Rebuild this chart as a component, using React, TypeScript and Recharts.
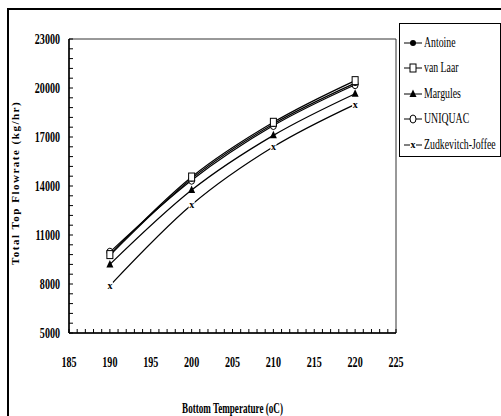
import { Legend, Line, LineChart, ReferenceArea, XAxis, YAxis } from "recharts";

const temperatures = [190, 200, 210, 220];
const antoine = [9750, 14450, 17800, 20300];
const vanLaar = [9800, 14550, 17900, 20450];
const margules = [9200, 13750, 17100, 19650];
const uniquac = [9950, 14350, 17700, 20200];
const zudkevitchJoffee = [7900, 12850, 16400, 19000];

const xLabels = [185, 190, 195, 200, 205, 210, 215, 220, 225];
const yLabels = [5000, 8000, 11000, 14000, 17000, 20000, 23000];

type MarkerKind = "dot" | "square" | "triangle" | "ring" | "cross";

interface Series {
    key: string;
    name: string;
    values: number[];
    marker: MarkerKind;
}

// legend order
const series: Series[] = [
    { key: "antoine", name: "Antoine", values: antoine, marker: "dot" },
    { key: "vanLaar", name: "van Laar", values: vanLaar, marker: "square" },
    { key: "margules", name: "Margules", values: margules, marker: "triangle" },
    { key: "uniquac", name: "UNIQUAC", values: uniquac, marker: "ring" },
    { key: "zj", name: "Zudkevitch-Joffee", values: zudkevitchJoffee, marker: "cross" },
];

// drawing order, van Laar on top
const drawOrder = ["zj", "margules", "uniquac", "antoine", "vanLaar"];

const data = temperatures.map((t, i) => {
    const row: Record<string, number> = { t };
    series.forEach(s => { row[s.key] = s.values[i]; });
    return row;
});

// minor ticks: 1 degree, 600 kg/hr
const xTicks: number[] = [];
for (let v = xLabels[0]; v <= xLabels[xLabels.length - 1]; v += 1) xTicks.push(v);
const yTicks: number[] = [];
for (let v = yLabels[0]; v <= yLabels[yLabels.length - 1]; v += 600) yTicks.push(v);

const SERIF = "Liberation Serif, Tinos, Times New Roman, Times, DejaVu Serif, Noto Serif, serif";
const SQUEEZE = 0.72;

function Marker({ kind, cx, cy }: { kind: MarkerKind; cx: number; cy: number }) {
    switch (kind) {
        case "dot":
            return <circle cx={cx} cy={cy} r={3} fill="#000" />;
        case "square":
            return <rect x={cx - 3} y={cy - 4} width={6} height={8} fill="#fff" stroke="#000" strokeWidth={1} />;
        case "triangle":
            return <path d={`M${cx},${cy - 4.5}L${cx + 3.5},${cy + 3}L${cx - 3.5},${cy + 3}Z`} fill="#000" />;
        case "ring":
            return <ellipse cx={cx} cy={cy} rx={3} ry={4} fill="#fff" stroke="#000" strokeWidth={1} />;
        case "cross":
            return <g>
                <rect x={cx - 3} y={cy - 4} width={6} height={8} fill="#fff" />
                <text x={cx} y={cy} dy="0.32em" textAnchor="middle" fontSize={10} fontWeight="bold"
                    style={{ fontFamily: SERIF }}>x</text>
            </g>;
    }
}

function XTick(props: any) {
    const { x, y, payload } = props;
    if (!xLabels.includes(payload.value)) return <g />;
    return <text transform={`translate(${x},${y}) scale(${SQUEEZE},1)`} dy="0.71em" textAnchor="middle"
        fontSize={14} fontWeight="bold" style={{ fontFamily: SERIF }} fill="#000">{payload.value}</text>;
}

function YTick(props: any) {
    const { x, y, payload } = props;
    if (!yLabels.includes(payload.value)) return <g />;
    return <text transform={`translate(${x},${y}) scale(${SQUEEZE},1)`} dy="0.355em" textAnchor="end"
        fontSize={14} fontWeight="bold" style={{ fontFamily: SERIF }} fill="#000">{payload.value}</text>;
}

function LegendBox() {
    return <div style={{
        boxSizing: "border-box", width: 102, height: 134, border: "1px solid #000",
        background: "#fff", paddingTop: 6,
    }}>
        {series.map(s => <div key={s.key} style={{ height: 25.5, display: "flex", alignItems: "center" }}>
            <svg width={21} height={12} style={{ marginLeft: 3, flex: "none" }}>
                <line x1={1} y1={6} x2={19} y2={6} stroke="#000" strokeWidth={1} />
                <Marker kind={s.marker} cx={10} cy={6} />
            </svg>
            <span style={{
                display: "inline-block", whiteSpace: "nowrap", fontFamily: SERIF, fontSize: 14,
                transform: "scaleX(0.7)", transformOrigin: "left center", color: "#000",
            }}>{s.name}</span>
        </div>)}
    </div>;
}

export default function App() {
    return <div style={{ position: "relative", width: 501, height: 416, overflow: "hidden", background: "#fff" }}>
        <style>{"body{margin:0;overflow:hidden}"}</style>
        <div style={{
            position: "absolute", left: 7, top: 8, width: 600, height: 600,
            borderLeft: "2px solid #000", borderTop: "2px solid #000",
        }} />
        <div style={{ position: "absolute", left: 0, top: 0 }}>
            <LineChart width={501} height={416} data={data} margin={{ top: 39, right: 105, bottom: 53, left: 9 }}>
                <ReferenceArea x1={185} x2={225} y1={5000} y2={23000} fill="none" stroke="#333" strokeWidth={1}
                    ifOverflow="extendDomain" />
                <XAxis dataKey="t" type="number" domain={[185, 225]} ticks={xTicks} interval={0}
                    height={30} tickSize={-4} tickMargin={28} tick={<XTick />}
                    axisLine={{ stroke: "#000", strokeWidth: 1.5 }} tickLine={{ stroke: "#000" }}
                    label={{
                        content: ({ viewBox }: any) => <text
                            transform={`translate(${viewBox.x + viewBox.width / 2},${viewBox.y + 75}) scale(0.65,1)`}
                            textAnchor="middle" dy="0.355em" fontSize={14} fontWeight="bold" style={{ fontFamily: SERIF }}
                            fill="#000">Bottom Temperature (oC)</text>
                    }} />
                <YAxis type="number" domain={[5000, 23000]} ticks={yTicks} interval={0}
                    width={60} tickSize={-4} tickMargin={13} tick={<YTick />}
                    axisLine={{ stroke: "#000", strokeWidth: 1.5 }} tickLine={{ stroke: "#000" }}
                    label={{
                        content: ({ viewBox }: any) => <text
                            transform={`translate(15,${viewBox.y + viewBox.height / 2 - 3}) rotate(-90)`}
                            textAnchor="middle" dy="0.355em" fontSize={11} fontWeight="bold" style={{ fontFamily: SERIF }}
                            letterSpacing={1.5} fill="#000">Total Top Flowrate (kg/hr)</text>
                    }} />
                {drawOrder.map(k => {
                    const s = series.find(x => x.key === k)!;
                    return <Line key={s.key} dataKey={s.key} name={s.name} type="monotone" stroke="#000"
                        strokeWidth={1.2} isAnimationActive={false} activeDot={false}
                        dot={(p: any) => <Marker key={`${s.key}-${p.index}`} kind={s.marker} cx={p.cx} cy={p.cy} />} />;
                })}
                <Legend layout="vertical" align="center" verticalAlign="middle" content={<LegendBox />}
                    wrapperStyle={{ left: 399, top: 23, width: 102, height: 134 }} />
            </LineChart>
        </div>
    </div>;
}
